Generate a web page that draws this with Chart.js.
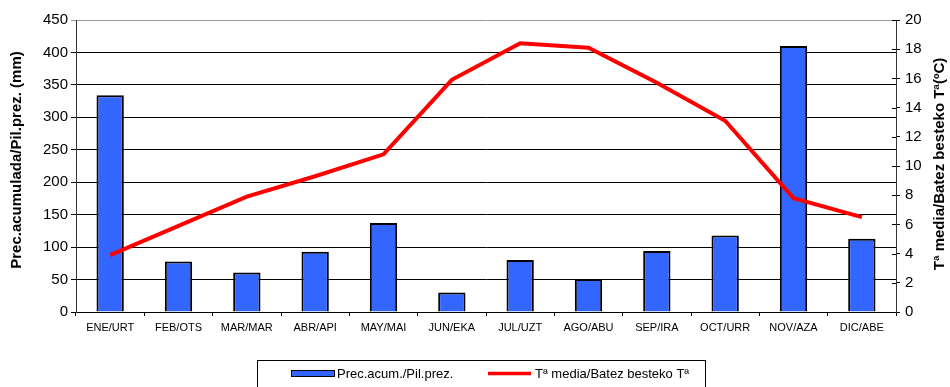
<!DOCTYPE html>
<html>
<head>
<meta charset="utf-8">
<script src="https://cdn.jsdelivr.net/npm/chart.js@4"></script>
<style>
html,body{margin:0;padding:0;background:#fff;}
#wrap{width:950px;height:387px;}
</style>
</head>
<body>
<div id="wrap"><canvas id="chart" width="950" height="387"></canvas></div>
<script>
const months=["ENE/URT","FEB/OTS","MAR/MAR","ABR/API","MAY/MAI","JUN/EKA","JUL/UZT","AGO/ABU","SEP/IRA","OCT/URR","NOV/AZA","DIC/ABE"];
const precip=[334,78,61,93,137,30,80,51,94,118,410,113];
const temps=[3.9,5.9,7.9,9.3,10.8,15.9,18.4,18.1,15.7,13.1,7.8,6.5];
const precLabel="Prec.acum./Pil.prez.";
const tempLabel="Tª media/Batez besteko Tª";
const leftTitle="Prec.acumulada/Pil.prez. (mm)";
const rightTitle="Tª media/Batez besteko Tª(ºC)";

const FONT="'Liberation Sans', Arial, sans-serif";

const extras={
  id:"extras",
  afterDraw(chart){
    const c=chart.ctx, a=chart.chartArea;
    const y1=chart.scales.y1;
    c.save();
    // inward ticks on right axis
    c.strokeStyle="#000";c.lineWidth=1;
    y1.ticks.forEach(t=>{
      const py=Math.round(y1.getPixelForValue(t.value))+0.5;
      c.beginPath();c.moveTo(a.right-4,py);c.lineTo(a.right,py);c.stroke();
    });
    // axis titles
    c.fillStyle="#000";
    c.font="bold 15px "+FONT;
    c.textAlign="center";c.textBaseline="middle";
    const cy=(a.top+a.bottom)/2;
    c.save();c.translate(17,cy-6);c.rotate(-Math.PI/2);c.fillText(leftTitle,0,0);c.restore();
    c.save();c.translate(940,cy-2);c.rotate(-Math.PI/2);c.fillText(rightTitle,0,0);c.restore();
    // legend
    c.strokeStyle="#000";c.lineWidth=1;
    c.strokeRect(257.5,360.5,448,40);
    c.fillStyle="#3366ff";c.fillRect(292,371,42,5);
    c.strokeRect(291.5,370.5,43,6);
    c.strokeStyle="#ff0000";c.lineWidth=3.5;
    c.beginPath();c.moveTo(488,373.5);c.lineTo(531,373.5);c.stroke();
    c.fillStyle="#000";c.font="13px "+FONT;c.textAlign="left";
    c.fillText(precLabel,337,374);
    c.fillText(tempLabel,535,374);
    c.restore();
  }
};

new Chart(document.getElementById("chart"),{
  type:"bar",
  data:{labels:months,datasets:[
    {type:"line",label:tempLabel,data:temps,yAxisID:"y1",borderColor:"#ff0000",borderWidth:4,pointRadius:0,tension:0,order:0},
    {type:"bar",label:precLabel,data:precip,yAxisID:"y",backgroundColor:"#3366ff",borderColor:"#000",borderWidth:2,barPercentage:0.4,categoryPercentage:1,order:1}
  ]},
  options:{
    responsive:false,animation:false,
    layout:{padding:{left:0,right:0,top:20,bottom:0}},
    plugins:{legend:{display:false},tooltip:{enabled:false}},
    scales:{
      x:{
        grid:{drawOnChartArea:false,tickLength:4,color:"#000",offset:true},
        border:{color:"#000",width:1},
        ticks:{color:"#000",font:{family:FONT,size:11},padding:5,maxRotation:0,autoSkip:false},
        afterFit(s){s.height=75;}
      },
      y:{
        position:"left",min:0,max:450,
        grid:{color:ctx=>ctx.tick&&ctx.tick.value===450?"#999":"#000",tickLength:5},
        border:{color:"#333",width:1},
        ticks:{stepSize:50,color:"#000",font:{family:FONT,size:15},padding:3},
        afterFit(s){s.width=76;}
      },
      y1:{
        position:"right",min:0,max:20,
        grid:{drawOnChartArea:false,tickLength:4,color:"#000"},
        border:{color:"#333",width:1},
        ticks:{stepSize:2,color:"#000",font:{family:FONT,size:15},padding:5},
        afterFit(s){s.width=54;}
      }
    }
  },
  plugins:[extras]
});
</script>
</body>
</html>
